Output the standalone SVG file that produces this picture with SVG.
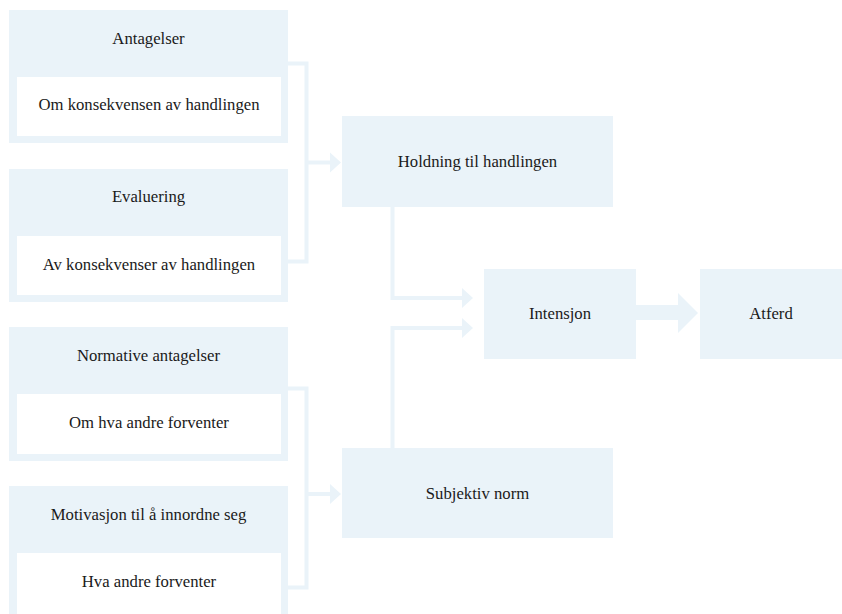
<svg xmlns="http://www.w3.org/2000/svg" width="842" height="614" viewBox="0 0 842 614">
<style>
.b{fill:#EAF3F9}
.w{fill:#FFFFFF}
text{font-family:'Liberation Serif','Times New Roman',serif;font-size:16.7px;fill:#1a1a1a;text-anchor:middle}
.c{fill:none;stroke:#EAF3F9;stroke-width:4}
.h{fill:#EAF3F9}
</style>
<rect width="842" height="614" fill="#FFFFFF"/>
<g id="connectors">
<polyline class="c" points="288,63.5 306.5,63.5 306.5,261.5 288,261.5"/>
<line class="c" x1="306.5" y1="162.5" x2="331" y2="162.5"/>
<polygon class="h" points="330,152.5 341,162.5 330,172.5"/>
<polyline class="c" points="288,388.5 306.5,388.5 306.5,587.5 288,587.5"/>
<line class="c" x1="306.5" y1="494" x2="331" y2="494"/>
<polygon class="h" points="330,484 341,494 330,504"/>
<polyline class="c" points="392.5,207 392.5,298 463,298"/>
<polygon class="h" points="462,288 473,298 462,308"/>
<polyline class="c" points="392.5,448 392.5,328 463,328"/>
<polygon class="h" points="462,318 473,328 462,338"/>
<polygon class="h" points="636,305 678,305 678,293 698,313 678,333 678,320 636,320"/>
</g>
<g id="antagelser">
<rect class="b" x="9" y="10" width="279" height="133"/>
<text x="148.5" y="43.5">Antagelser</text>
<rect class="w" x="17" y="77" width="264" height="59"/>
<text x="149" y="110">Om konsekvensen av handlingen</text>
</g>
<g id="evaluering">
<rect class="b" x="9" y="169" width="279" height="133"/>
<text x="148.5" y="201.5">Evaluering</text>
<rect class="w" x="17" y="236" width="264" height="59"/>
<text x="149" y="270">Av konsekvenser av handlingen</text>
</g>
<g id="normative">
<rect class="b" x="9" y="327" width="279" height="134"/>
<text x="148.5" y="360.5">Normative antagelser</text>
<rect class="w" x="17" y="394" width="264" height="60"/>
<text x="149" y="427.5">Om hva andre forventer</text>
</g>
<g id="motivasjon">
<rect class="b" x="9" y="486" width="279" height="134"/>
<text x="148.5" y="519.5">Motivasjon til å innordne seg</text>
<rect class="w" x="17" y="553" width="264" height="61"/>
<text x="149" y="586.5">Hva andre forventer</text>
</g>
<g id="holdning">
<rect class="b" x="342" y="116" width="271" height="91"/>
<text x="477.5" y="167">Holdning til handlingen</text>
</g>
<g id="subjektiv">
<rect class="b" x="342" y="448" width="271" height="90"/>
<text x="477.5" y="498.5">Subjektiv norm</text>
</g>
<g id="intensjon">
<rect class="b" x="484" y="269" width="152" height="90"/>
<text x="560" y="318.5">Intensjon</text>
</g>
<g id="atferd">
<rect class="b" x="700" y="269" width="142" height="90"/>
<text x="771" y="318.5">Atferd</text>
</g>
</svg>
